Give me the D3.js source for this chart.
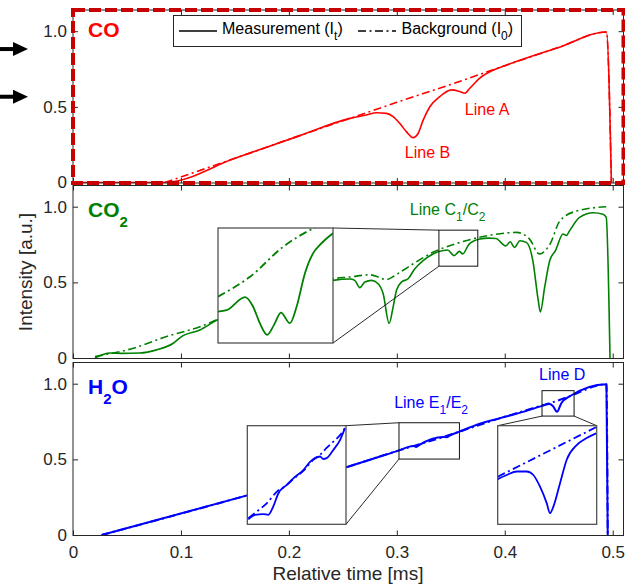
<!DOCTYPE html>
<html>
<head>
<meta charset="utf-8">
<script src="https://cdn.jsdelivr.net/npm/d3@7"></script>
<style>
  body { margin: 0; background: #fff; }
  svg { display: block; }
  text { font-family: "Liberation Sans", Arial, Helvetica, sans-serif; }
</style>
</head>
<body>
<svg id="chart" width="625" height="584"></svg>
<script>
// ---- data ----
const xDomain = [0, 0.51];
const yDomain = [-0.003, 1.14];
const xTicks = [0, 0.1, 0.2, 0.3, 0.4, 0.5];
const xTickLabels = ['0', '0.1', '0.2', '0.3', '0.4', '0.5'];
const yTicks = [0, 0.5, 1.0];
const yTickLabels = ['0', '0.5', '1.0'];

// CO: [time ms, intensity]
const coMeas = [[0, 0], [0.085, 0], [0.15, 0.16], [0.2102, 0.31], [0.2565, 0.424], [0.2719, 0.446],
  [0.2812, 0.461], [0.2904, 0.457], [0.2966, 0.435], [0.3028, 0.39], [0.309, 0.335], [0.3151, 0.297],
  [0.3197, 0.324], [0.3244, 0.412], [0.3306, 0.501], [0.3398, 0.568], [0.3506, 0.612], [0.3583, 0.601],
  [0.363, 0.59], [0.3676, 0.623], [0.3769, 0.69], [0.3892, 0.742], [0.40, 0.772], [0.45, 0.893],
  [0.4942, 0.995], [0.4988, 0]];
const coBg = [[0.085, 0], [0.15, 0.16], [0.21, 0.31], [0.26, 0.432], [0.30, 0.53], [0.35, 0.648],
  [0.40, 0.772], [0.45, 0.893], [0.4942, 0.995], [0.4988, 0]];

// CO2
const co2Meas = [[0.0204, 0], [0.0343, 0.033], [0.045, 0.031], [0.062, 0.033], [0.0775, 0.054],
  [0.0929, 0.098], [0.1006, 0.142], [0.1176, 0.185], [0.133, 0.25], [0.16, 0.32], [0.2, 0.42],
  [0.241, 0.513], [0.2565, 0.522], [0.261, 0.513], [0.2657, 0.465], [0.2704, 0.502], [0.2766, 0.513],
  [0.2827, 0.491], [0.2873, 0.426], [0.2929, 0.229], [0.2966, 0.338], [0.2997, 0.448], [0.3043, 0.502],
  [0.3105, 0.524], [0.3167, 0.59], [0.3244, 0.644], [0.3336, 0.688], [0.3429, 0.71], [0.347, 0.714],
  [0.353, 0.677], [0.358, 0.705], [0.361, 0.688], [0.367, 0.753], [0.377, 0.786], [0.385, 0.792],
  [0.392, 0.79], [0.398, 0.753], [0.401, 0.74], [0.405, 0.768], [0.409, 0.73], [0.414, 0.775],
  [0.42, 0.764], [0.426, 0.644], [0.431, 0.382], [0.433, 0.305], [0.437, 0.47], [0.4417, 0.644],
  [0.447, 0.71], [0.454, 0.82], [0.457, 0.81], [0.46, 0.84], [0.469, 0.928], [0.482, 0.96],
  [0.491, 0.95], [0.494, 0.93], [0.4975, 0]];
const co2Bg = [[0.0204, 0.01], [0.0559, 0.065], [0.0867, 0.142], [0.1176, 0.207], [0.133, 0.251],
  [0.2, 0.42], [0.241, 0.524], [0.256, 0.535], [0.275, 0.55], [0.283, 0.535], [0.29, 0.518],
  [0.297, 0.54], [0.303, 0.567], [0.334, 0.70], [0.364, 0.775], [0.389, 0.815], [0.411, 0.83],
  [0.423, 0.786], [0.432, 0.688], [0.442, 0.754], [0.451, 0.906], [0.466, 0.97], [0.494, 1.0]];

// H2O
const h2oMeas = [[0.0265, 0], [0.1614, 0.262], [0.2528, 0.447], [0.3028, 0.561], [0.315, 0.589],
  [0.318, 0.582], [0.321, 0.596], [0.343, 0.648], [0.346, 0.646], [0.349, 0.657], [0.358, 0.683],
  [0.3769, 0.735], [0.395, 0.771], [0.417, 0.814], [0.434, 0.852], [0.4417, 0.866], [0.4447, 0.851],
  [0.4484, 0.814], [0.4525, 0.873], [0.4602, 0.917], [0.4942, 0.997], [0.4954, 0]];
const h2oBg = [[0.0265, 0], [0.1614, 0.262], [0.2528, 0.447], [0.3028, 0.561], [0.343, 0.648],
  [0.358, 0.683], [0.395, 0.771], [0.417, 0.818], [0.434, 0.855], [0.4447, 0.878], [0.4525, 0.897],
  [0.4602, 0.917], [0.4942, 0.997], [0.4954, 0]];

// zoomed regions and their inset curves
const co2ZoomX = [0.339, 0.375];
const co2ZoomY = [0.607, 0.845];
const co2InsetMeas = [[0.339, 0.672], [0.3417, 0.675], [0.3475, 0.702], [0.35, 0.682], [0.3521, 0.648],
  [0.3544, 0.624], [0.3565, 0.644], [0.3587, 0.670], [0.3615, 0.648], [0.3636, 0.682], [0.3662, 0.751],
  [0.3688, 0.793], [0.3709, 0.810], [0.375, 0.834]];
const co2InsetBg = [[0.339, 0.703], [0.349, 0.744], [0.3594, 0.806], [0.3688, 0.844], [0.375, 0.86]];

const h2oZoomEX = [0.302, 0.358];
const h2oZoomEY = [0.502, 0.742];
const h2oInsetEMeas = [[0.3026, 0.514], [0.3064, 0.525], [0.3111, 0.527], [0.3139, 0.525], [0.3167, 0.545],
  [0.3196, 0.577], [0.3244, 0.598], [0.3281, 0.614], [0.3338, 0.634], [0.3376, 0.654], [0.3404, 0.663],
  [0.3433, 0.667], [0.3451, 0.661], [0.347, 0.663], [0.3508, 0.683], [0.3546, 0.707], [0.3574, 0.736]];
const h2oInsetEBg = [[0.3026, 0.517], [0.3073, 0.533], [0.313, 0.553], [0.3187, 0.581], [0.3244, 0.598],
  [0.3281, 0.612], [0.3338, 0.632], [0.3394, 0.659], [0.3433, 0.671], [0.347, 0.688], [0.3508, 0.703],
  [0.3546, 0.719], [0.3574, 0.736]];

const h2oZoomDX = [0.4345, 0.4642];
const h2oZoomDY = [0.786, 0.954];
const h2oInsetDMeas = [[0.4345, 0.863], [0.4372, 0.870], [0.4402, 0.876], [0.4432, 0.876], [0.4452, 0.870],
  [0.4472, 0.850], [0.4492, 0.822], [0.4502, 0.805], [0.4512, 0.816], [0.4532, 0.856], [0.4552, 0.896],
  [0.4582, 0.921], [0.4612, 0.933], [0.464, 0.941]];
const h2oInsetDBg = [[0.4345, 0.867], [0.4642, 0.952]];

// ---- layout ----
const plotLeft = 73, plotRight = 623.5, panelH = 173;
const panelTops = [10, 185.5, 362.5];
const axisColor = '#262626';
const dashDot = '8,3.5,2,3.5';
const font = '"Liberation Sans", Arial, Helvetica, sans-serif';

const svg = d3.select('#chart');
const defs = svg.append('defs');
const x = d3.scaleLinear().domain(xDomain).range([plotLeft, plotRight]);

function subText(g, px, py, parts, opts) {
  const t = g.append('text').attr('x', px).attr('y', py)
    .attr('fill', opts.color).attr('font-size', opts.size)
    .attr('font-weight', opts.weight || 'normal');
  let shift = 0;
  parts.forEach(([s, sub]) => {
    const want = sub ? opts.subDy : 0;
    t.append('tspan').attr('dy', want - shift)
      .attr('font-size', sub ? opts.subSize : opts.size).text(s);
    shift = want;
  });
  return t;
}

const panels = [
  { id: 'co', color: '#ff0000', lw: 1.6, meas: coMeas, bg: coBg,
    label: [['CO', 0]],
    notes: [{ t: 0.363, v: 0.446, parts: [['Line A', 0]] }, { t: 0.3074, v: 0.162, parts: [['Line B', 0]] }],
    insets: [] },
  { id: 'co2', color: '#008000', lw: 1.6, meas: co2Meas, bg: co2Bg,
    label: [['CO', 0], ['2', 1]],
    notes: [{ t: 0.312, v: 0.945, parts: [['Line C', 0], ['1', 1], ['/C', 0], ['2', 1]] }],
    insets: [{ box: [218, 228, 333, 343], zx: co2ZoomX, zy: co2ZoomY, meas: co2InsetMeas, bg: co2InsetBg,
      links: [['tr', 'tl'], ['br', 'bl']] }] },
  { id: 'h2o', color: '#0000ff', lw: 2, meas: h2oMeas, bg: h2oBg,
    label: [['H', 0], ['2', 1], ['O', 0]],
    notes: [{ t: 0.2975, v: 0.837, parts: [['Line E', 0], ['1', 1], ['/E', 0], ['2', 1]] },
            { t: 0.4318, v: 1.024, parts: [['Line D', 0]] }],
    insets: [{ box: [247.3, 425.7, 346, 524.3], zx: h2oZoomEX, zy: h2oZoomEY, meas: h2oInsetEMeas, bg: h2oInsetEBg,
               links: [['tr', 'tl'], ['br', 'bl']] },
             { box: [497.7, 425.7, 596.7, 524.3], zx: h2oZoomDX, zy: h2oZoomDY, meas: h2oInsetDMeas, bg: h2oInsetDBg,
               links: [['tl', 'bl'], ['tr', 'br']] }] }
];

panels.forEach((p, pi) => {
  const top = panelTops[pi], bottom = top + panelH;
  const y = d3.scaleLinear().domain(yDomain).range([bottom, top]);
  const g = svg.append('g');

  defs.append('clipPath').attr('id', 'clip-' + p.id).append('rect')
    .attr('x', plotLeft).attr('y', top).attr('width', plotRight - plotLeft).attr('height', panelH);

  const line = d3.line().x(d => x(d[0])).y(d => y(d[1])).curve(d3.curveMonotoneX);
  const curves = g.append('g').attr('clip-path', `url(#clip-${p.id})`);
  curves.append('path').attr('d', line(p.bg)).attr('fill', 'none').attr('stroke', p.color)
    .attr('stroke-width', p.lw).attr('stroke-dasharray', dashDot);
  curves.append('path').attr('d', line(p.meas)).attr('fill', 'none').attr('stroke', p.color)
    .attr('stroke-width', p.lw).attr('stroke-linejoin', 'round');

  // zoom boxes, connectors and insets
  p.insets.forEach((ins, ii) => {
    const zb = { x0: x(ins.zx[0]), x1: x(ins.zx[1]), y0: y(ins.zy[1]), y1: y(ins.zy[0]) };
    const ib = { x0: ins.box[0], y0: ins.box[1], x1: ins.box[2], y1: ins.box[3] };
    const corner = (r, c) => [c[1] === 'l' ? r.x0 : r.x1, c[0] === 't' ? r.y0 : r.y1];
    g.append('rect').attr('x', zb.x0).attr('y', zb.y0).attr('width', zb.x1 - zb.x0).attr('height', zb.y1 - zb.y0)
      .attr('fill', 'none').attr('stroke', '#111').attr('stroke-width', 1);
    ins.links.forEach(([a, b]) => {
      const pa = corner(ib, a), pb = corner(zb, b);
      g.append('line').attr('x1', pa[0]).attr('y1', pa[1]).attr('x2', pb[0]).attr('y2', pb[1])
        .attr('stroke', '#111').attr('stroke-width', 0.9);
    });
    const ix = d3.scaleLinear().domain(ins.zx).range([ib.x0, ib.x1]);
    const iy = d3.scaleLinear().domain(ins.zy).range([ib.y1, ib.y0]);
    const cid = `clip-${p.id}-in${ii}`;
    defs.append('clipPath').attr('id', cid).append('rect')
      .attr('x', ib.x0).attr('y', ib.y0).attr('width', ib.x1 - ib.x0).attr('height', ib.y1 - ib.y0);
    g.append('rect').attr('x', ib.x0).attr('y', ib.y0).attr('width', ib.x1 - ib.x0).attr('height', ib.y1 - ib.y0)
      .attr('fill', '#fff');
    const il = d3.line().x(d => ix(d[0])).y(d => iy(d[1])).curve(d3.curveMonotoneX);
    const ig = g.append('g').attr('clip-path', `url(#${cid})`);
    ig.append('path').attr('d', il(ins.bg)).attr('fill', 'none').attr('stroke', p.color)
      .attr('stroke-width', 1.8).attr('stroke-dasharray', dashDot);
    ig.append('path').attr('d', il(ins.meas)).attr('fill', 'none').attr('stroke', p.color)
      .attr('stroke-width', 1.8);
    g.append('rect').attr('x', ib.x0).attr('y', ib.y0).attr('width', ib.x1 - ib.x0).attr('height', ib.y1 - ib.y0)
      .attr('fill', 'none').attr('stroke', '#444').attr('stroke-width', 1.2);
  });

  // axes box with inward ticks
  const axisStyle = sel => {
    sel.select('.domain').remove();
    sel.selectAll('line').attr('stroke', axisColor);
    sel.selectAll('text').attr('fill', axisColor).attr('font-size', 17).attr('font-family', font);
  };
  g.append('g').attr('transform', `translate(0,${bottom})`)
    .call(d3.axisBottom(x).tickValues(xTicks).tickSize(-5).tickPadding(10.5)
      .tickFormat((d, i) => pi === panels.length - 1 ? xTickLabels[i] : ''))
    .call(axisStyle);
  g.append('g').attr('transform', `translate(0,${top})`)
    .call(d3.axisTop(x).tickValues(xTicks).tickSize(-5).tickFormat(''))
    .call(axisStyle);
  g.append('g').attr('transform', `translate(${plotLeft},0)`)
    .call(d3.axisLeft(y).tickValues(yTicks).tickSize(-5).tickPadding(6).tickFormat((d, i) => yTickLabels[i]))
    .call(axisStyle);
  g.append('g').attr('transform', `translate(${plotRight},0)`)
    .call(d3.axisRight(y).tickValues(yTicks).tickSize(-5).tickFormat(''))
    .call(axisStyle);
  g.append('rect').attr('x', plotLeft).attr('y', top).attr('width', plotRight - plotLeft).attr('height', panelH)
    .attr('fill', 'none').attr('stroke', axisColor).attr('stroke-width', 1);

  // species label and line annotations
  subText(g, x(0.0139), y(p.id === 'co' ? 0.962 : 0.935), p.label,
    { color: p.color, size: 21, weight: 'bold', subSize: 15, subDy: 10 });
  p.notes.forEach(n => subText(g, x(n.t), y(n.v), n.parts,
    { color: p.color, size: 16, subSize: 12, subDy: 6 }));

  if (p.id === 'co') {
    // legend
    const lg = svg.append('g');
    lg.append('rect').attr('x', 173.5).attr('y', 15.5).attr('width', 348).attr('height', 31)
      .attr('fill', '#fff').attr('stroke', axisColor).attr('stroke-width', 1);
    lg.append('line').attr('x1', 179).attr('x2', 217).attr('y1', 31).attr('y2', 31)
      .attr('stroke', '#000').attr('stroke-width', 1.6);
    subText(lg, 222, 34, [['Measurement (I', 0], ['t', 1], [')', 0]], { color: '#000', size: 16, subSize: 12, subDy: 6 });
    lg.append('line').attr('x1', 358).attr('x2', 396).attr('y1', 31).attr('y2', 31)
      .attr('stroke', '#000').attr('stroke-width', 1.6).attr('stroke-dasharray', dashDot);
    subText(lg, 401.5, 34, [['Background (I', 0], ['0', 1], [')', 0]], { color: '#000', size: 16, subSize: 12, subDy: 6 });

    // dashed highlight frame
    svg.append('rect').attr('x', plotLeft).attr('y', top).attr('width', plotRight - plotLeft).attr('height', panelH)
      .attr('fill', 'none').attr('stroke', '#c80000').attr('stroke-width', 4).attr('stroke-dasharray', '12,4');

    // arrows
    [0.882, 0.567].forEach(v => {
      const ay = y(v);
      svg.append('line').attr('x1', 0).attr('x2', 16).attr('y1', ay).attr('y2', ay)
        .attr('stroke', '#000').attr('stroke-width', 4);
      svg.append('path').attr('d', `M13,${ay - 7}L28,${ay}L13,${ay + 7}Z`).attr('fill', '#000');
    });
  }
});

// axis titles
svg.append('text').attr('x', 348).attr('y', 579.5).attr('text-anchor', 'middle')
  .attr('font-size', 19).attr('fill', axisColor).text('Relative time [ms]');
svg.append('text').attr('transform', 'translate(32,272) rotate(-90)').attr('text-anchor', 'middle')
  .attr('font-size', 19).attr('fill', axisColor).text('Intensity [a.u.]');
</script>
</body>
</html>
